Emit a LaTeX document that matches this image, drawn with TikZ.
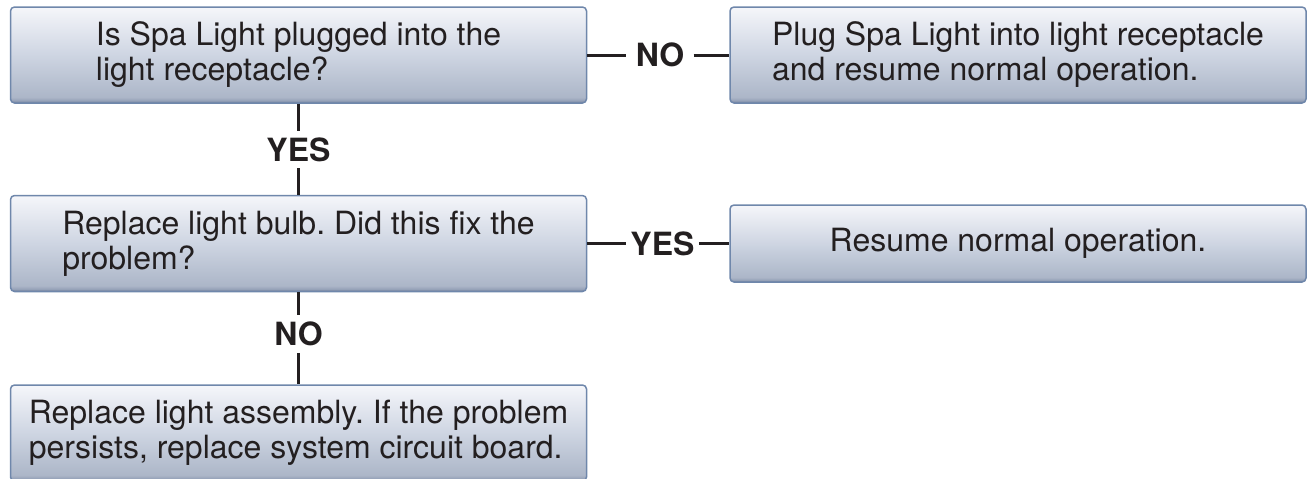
\documentclass[tikz,border=0pt]{standalone}
\usepackage{fontspec}
\setmainfont{TeX Gyre Heros}
\frenchspacing
\definecolor{boxline}{RGB}{111,135,171}
\definecolor{boxband}{RGB}{104,122,153}
\definecolor{boxlow}{RGB}{150,162,184}
\definecolor{boxlowmid}{RGB}{172,182,200}
\definecolor{boxmid}{RGB}{206,213,226}
\definecolor{boxtop}{RGB}{245,246,250}
\definecolor{inktext}{RGB}{35,31,32}
\pgfdeclareverticalshading{spabox}{100bp}{color(0bp)=(boxband); color(25bp)=(boxband); color(26.3bp)=(boxlow); color(28bp)=(boxlowmid); color(50bp)=(boxmid); color(75bp)=(boxtop); color(100bp)=(boxtop)}
\begin{document}
\begin{tikzpicture}[x=0.5pt, y=-0.5pt,
  stepbox/.style={draw=boxline, line width=0.75pt, rounded corners=2pt, shading=spabox, text=inktext, align=left, inner sep=0pt, minimum width=288pt, minimum height=48pt, font=\fontsize{16}{17.5}\selectfont},
  answer/.style={text=inktext, inner xsep=2pt, inner ysep=3.25pt, font=\fontsize{16}{16}\selectfont\bfseries},
  link/.style={line width=1.5pt, draw=inktext}]
\useasboundingbox (0,0) rectangle (1308,478);
\clip (0,0) rectangle (1308,478);

\node (plugged) [stepbox] at (298.5,55) {Is Spa Light plugged into the\\light receptacle?};
\node (plugin) [stepbox, right of=plugged, node distance=359.75pt] {Plug Spa Light into light receptacle\\and resume normal operation.};
\node (bulb) [stepbox, below of=plugged, node distance=94.25pt] {Replace light bulb. Did this fix the\\problem?};
\node (resume) [stepbox, minimum height=38.5pt, right of=bulb, node distance=359.75pt] {Resume normal operation.};
\node (assembly) [stepbox, below of=bulb, node distance=94.75pt] {Replace light assembly. If the problem\\persists, replace system circuit board.};

% answers on the connectors
\node (noplug) [answer, inner xsep=4.5pt] at (660,55) {NO};
\node (yesplug) [answer] at (298.5,149.5) {YES};
\node (yesbulb) [answer] at (662.5,243.5) {YES};
\node (nobulb) [answer] at (298.5,334) {NO};

\draw [link] (plugged) -- (noplug) -- (plugin);
\draw [link] (plugged) -- (yesplug) -- (bulb);
\draw [link] (bulb) -- (yesbulb) -- (resume);
\draw [link] (bulb) -- (nobulb) -- (assembly);
\end{tikzpicture}
\end{document}
